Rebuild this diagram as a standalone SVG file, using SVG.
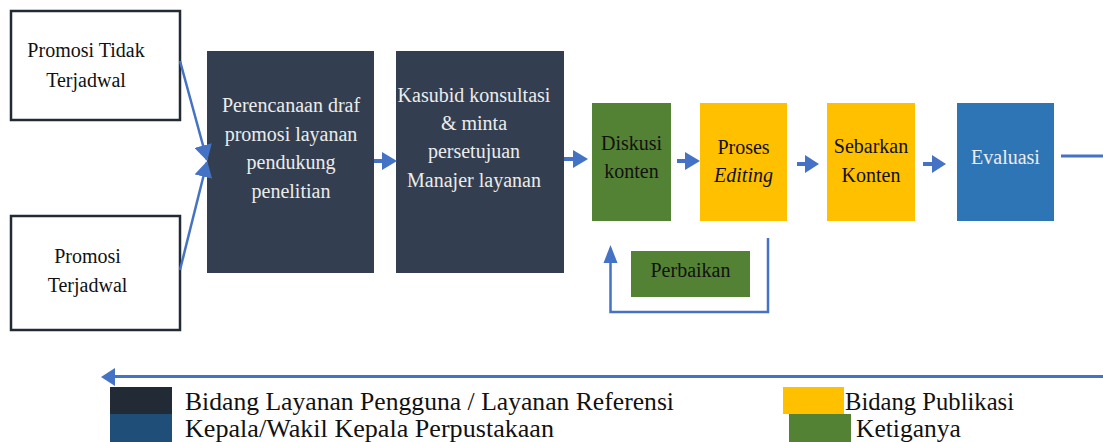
<svg xmlns="http://www.w3.org/2000/svg" width="1103" height="442" viewBox="0 0 1103 442">
<style>
.t{font-family:"Liberation Serif","Times New Roman",serif;font-size:20px;text-anchor:middle}
.w{fill:#ececec}
.k{fill:#111}
.lg{font-family:"Liberation Serif","Times New Roman",serif;font-size:25.5px;fill:#111}
.ln{stroke:#4472c4;fill:none}
.ah{fill:#4472c4}
</style>
<defs>
<marker id="m" markerWidth="10" markerHeight="10" refX="9" refY="5" orient="auto" markerUnits="userSpaceOnUse" viewBox="0 0 10 10">
<path d="M0,0 L10,5 L0,10 Z" fill="#4472c4"/>
</marker>
<marker id="m2" markerWidth="16" markerHeight="18" refX="15" refY="9" orient="auto" markerUnits="userSpaceOnUse" viewBox="0 0 16 18">
<path d="M0,0 L16,9 L0,18 Z" fill="#4472c4"/>
</marker>
</defs>
<rect width="1103" height="442" fill="#fff"/>

<g id="n1">
<rect x="11" y="11" width="169" height="109" fill="#fff" stroke="#222a35" stroke-width="2.5"/>
<text class="t k" x="86" y="57">Promosi Tidak</text>
<text class="t k" x="86" y="87">Terjadwal</text>
</g>
<g id="n2">
<rect x="11" y="216" width="169" height="114" fill="#fff" stroke="#222a35" stroke-width="2.5"/>
<text class="t k" x="87.5" y="263">Promosi</text>
<text class="t k" x="87.5" y="292">Terjadwal</text>
</g>
<g id="n3">
<rect x="207" y="51" width="167" height="222" fill="#333f50"/>
<text class="t w" x="291" y="112">Perencanaan draf</text>
<text class="t w" x="291" y="141">promosi layanan</text>
<text class="t w" x="291" y="169">pendukung</text>
<text class="t w" x="291" y="198">penelitian</text>
</g>
<g id="n4">
<rect x="396" y="51" width="168" height="222" fill="#333f50"/>
<text class="t w" x="474" y="102">Kasubid konsultasi</text>
<text class="t w" x="474" y="130">&amp; minta</text>
<text class="t w" x="474" y="158">persetujuan</text>
<text class="t w" x="474" y="187">Manajer layanan</text>
</g>
<g id="n5">
<rect x="592" y="103" width="79" height="118" fill="#548235"/>
<text class="t k" x="631.5" y="150">Diskusi</text>
<text class="t k" x="631.5" y="178">konten</text>
</g>
<g id="n6">
<rect x="700" y="103" width="87" height="118" fill="#ffc000"/>
<text class="t k" x="743.5" y="154">Proses</text>
<text class="t k" x="743.5" y="182" font-style="italic">Editing</text>
</g>
<g id="n7">
<rect x="827" y="103" width="88" height="118" fill="#ffc000"/>
<text class="t k" x="871" y="153">Sebarkan</text>
<text class="t k" x="871" y="182">Konten</text>
</g>
<g id="n8">
<rect x="957" y="103" width="97" height="118" fill="#2e75b6"/>
<text class="t w" x="1005.5" y="164">Evaluasi</text>
</g>
<g id="n9">
<rect x="631" y="251" width="119" height="46" fill="#548235"/>
<text class="t k" x="690.5" y="277">Perbaikan</text>
</g>

<g id="connectors">
<line class="ln" x1="180" y1="61" x2="207" y2="160" stroke-width="2.5" marker-end="url(#m2)"/>
<line class="ln" x1="180" y1="270" x2="207" y2="162" stroke-width="2.5" marker-end="url(#m2)"/>
<line class="ln" x1="374" y1="161" x2="384" y2="161" stroke-width="4"/>
<path class="ah" d="M382,152 L397,161 L382,170 Z"/>
<line class="ln" x1="564" y1="159" x2="575" y2="159" stroke-width="4"/>
<path class="ah" d="M573,150 L588,159 L573,168 Z"/>
<line class="ln" x1="677" y1="161" x2="687" y2="161" stroke-width="4"/>
<path class="ah" d="M685,152 L700,161 L685,170 Z"/>
<line class="ln" x1="797" y1="164" x2="807" y2="164" stroke-width="4"/>
<path class="ah" d="M805,155 L819,164 L805,173 Z"/>
<line class="ln" x1="923" y1="164" x2="934" y2="164" stroke-width="4"/>
<path class="ah" d="M932,155 L946,164 L932,173 Z"/>
<line class="ln" x1="1061" y1="156" x2="1103" y2="156" stroke-width="3"/>
<polyline class="ln" points="768,238 768,312 610.5,312 610.5,262" stroke-width="2.5"/>
<path class="ah" d="M603.5,263 L610.5,245 L617.5,263 Z"/>
<line class="ln" x1="1103" y1="376.5" x2="113" y2="376.5" stroke-width="3"/>
<path class="ah" d="M115,368 L101,377 L115,386 Z"/>
</g>

<g id="legend">
<rect x="110" y="387" width="62" height="27" fill="#222a35"/>
<rect x="110" y="414" width="62" height="28" fill="#1f4e79"/>
<text class="lg" x="185" y="410" textLength="489" lengthAdjust="spacingAndGlyphs">Bidang Layanan Pengguna / Layanan Referensi</text>
<text class="lg" x="185" y="437" textLength="369" lengthAdjust="spacingAndGlyphs">Kepala/Wakil Kepala Perpustakaan</text>
<rect x="783" y="387" width="61" height="27" fill="#ffc000"/>
<rect x="789" y="414" width="62" height="28" fill="#548235"/>
<text class="lg" x="845" y="410" textLength="169" lengthAdjust="spacingAndGlyphs">Bidang Publikasi</text>
<text class="lg" x="856" y="437">Ketiganya</text>
</g>
</svg>
